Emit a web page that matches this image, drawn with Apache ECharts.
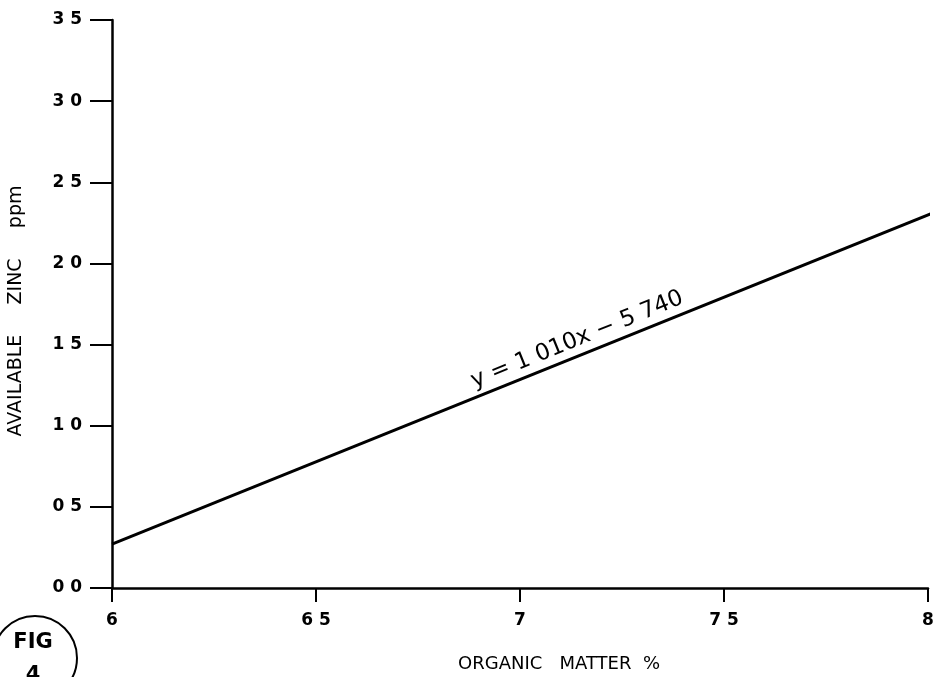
<!DOCTYPE html>
<html>
<head>
<meta charset="utf-8">
<script src="https://cdn.jsdelivr.net/npm/echarts@6/dist/echarts.min.js"></script>
<style>html,body{margin:0;padding:0;background:#fff}#c{width:940px;height:677px}</style>
</head>
<body>
<div id="c"></div>
<script>
// Data
var lineX = [6, 8.03];
var lineY = [0.27, 2.33];
var yTickValues = [0, 0.5, 1.0, 1.5, 2.0, 2.5, 3.0, 3.5];
var yTickLabels = ['0 0', '0 5', '1 0', '1 5', '2 0', '2 5', '3 0', '3 5'];
var xTickValues = [6, 6.5, 7, 7.5, 8];
var xTickLabels = ['6', '6 5', '7', '7 5', '8'];
var xAxisTitle = 'ORGANIC   MATTER  %';
var yAxisTitle = 'AVAILABLE     ZINC     ppm';
var equationText = 'y = 1 010x − 5 740';
var equationAt = [7.14, 1.53];

var chart = echarts.init(document.getElementById('c'), null, {renderer: 'canvas'});
var font = 'DejaVu Sans';
var option = {
  backgroundColor: '#fff',
  animation: false,
  grid: {left: 112, right: 12, top: 20, bottom: 89, containLabel: false, outerBoundsMode: 'none'},
  xAxis: {
    type: 'value', min: 6, max: 8, interval: 0.5,
    axisLine: {show: true, lineStyle: {color: '#000', width: 2.5}},
    axisTick: {show: true, inside: false, length: 14, lineStyle: {color: '#000', width: 2}},
    splitLine: {show: false},
    axisLabel: {
      margin: 24, color: '#000', fontFamily: font, fontWeight: 'bold', fontSize: 17,
      formatter: function (v) { var i = xTickValues.indexOf(+v.toFixed(2)); return i >= 0 ? xTickLabels[i] : ''; }
    },
    name: xAxisTitle, nameLocation: 'middle', nameGap: 67,
    nameTextStyle: {color: '#000', fontFamily: font, fontSize: 18, padding: [0, 0, 0, 78]}
  },
  yAxis: {
    type: 'value', min: 0, max: 3.5, interval: 0.5,
    axisLine: {show: true, lineStyle: {color: '#000', width: 2.5}},
    axisTick: {show: true, inside: false, length: 22, lineStyle: {color: '#000', width: 2}},
    splitLine: {show: false},
    axisLabel: {
      margin: 30, color: '#000', fontFamily: font, fontWeight: 'bold', fontSize: 17,
      formatter: function (v) { var i = yTickValues.indexOf(+v.toFixed(2)); return i >= 0 ? yTickLabels[i] : ''; }
    },
    name: yAxisTitle, nameLocation: 'middle', nameGap: 86, nameRotate: 90,
    nameTextStyle: {color: '#000', fontFamily: font, fontSize: 19, padding: [0, 14, 0, 0]}
  },
  series: [{
    type: 'line',
    data: lineX.map(function (x, i) { return [x, lineY[i]]; }),
    showSymbol: false, symbol: 'none', clip: false,
    lineStyle: {color: '#000', width: 3}
  }]
};
chart.setOption(option);

var p = chart.convertToPixel({gridIndex: 0}, equationAt);
var p0 = chart.convertToPixel({gridIndex: 0}, [lineX[0], lineY[0]]);
var p1 = chart.convertToPixel({gridIndex: 0}, [lineX[1], lineY[1]]);
var ang = Math.atan2(p0[1] - p1[1], p1[0] - p0[0]);

chart.setOption({
  graphic: [
    {
      type: 'text', x: p[0], y: p[1], rotation: ang,
      style: {text: equationText, fill: '#000', font: '23px "DejaVu Sans"', align: 'center', verticalAlign: 'middle'}
    },
    {
      type: 'circle', shape: {cx: 35, cy: 658, r: 42},
      style: {fill: 'none', stroke: '#000', lineWidth: 2}
    },
    {
      type: 'text', x: 33, y: 643,
      style: {text: 'FIG', fill: '#000', font: 'bold 21px "DejaVu Sans"', align: 'center', verticalAlign: 'middle'}
    },
    {
      type: 'text', x: 33, y: 676,
      style: {text: '4', fill: '#000', font: 'bold 21px "DejaVu Sans"', align: 'center', verticalAlign: 'middle'}
    }
  ]
});
</script>
</body>
</html>
